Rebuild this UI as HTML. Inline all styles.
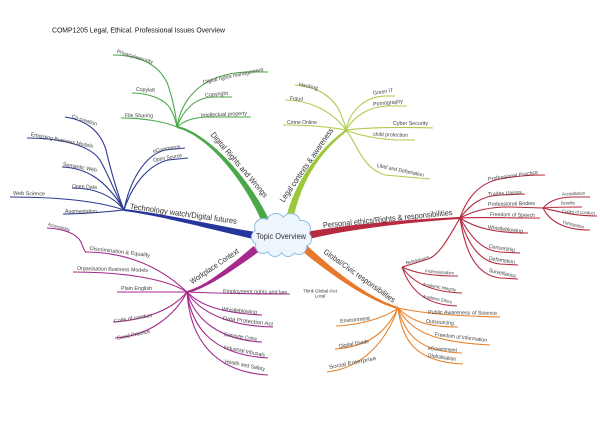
<!DOCTYPE html>
<html>
<head>
<meta charset="utf-8">
<style>
html,body{margin:0;padding:0;background:#fff;}
svg{display:block;}
text{font-family:"Liberation Sans",sans-serif;}
.s{font-size:5.5px;fill:#444;}
.xs{font-size:4.6px;fill:#444;}
.m{font-size:8px;fill:#333;}
</style>
</head>
<body>
<svg width="600" height="424" viewBox="0 0 600 424" xmlns="http://www.w3.org/2000/svg">
<rect width="600" height="424" fill="#fff"/>

<text x="52" y="32.5" font-size="7.5" fill="#111" textLength="173" lengthAdjust="spacingAndGlyphs">COMP1205 Legal, Ethical. Professional Issues Overview</text>

<!-- GREEN sub-branches -->
<g fill="none" stroke="#4aa84a" stroke-width="1.1">
<path d="M113,55 C140,55 160,65 168,85 C173,100 176,115 177,127"/>
<path d="M132,93 C150,93 165,100 170,108 C174,115 176,122 177,127"/>
<path d="M121,118 C145,118 165,122 177,127"/>
<path d="M177,127 C181,100 200,78 235,73 C250,71 260,72 268,72"/>
<path d="M177,127 C183,110 195,98 212,97 L232,97"/>
<path d="M177,127 C185,120 195,117 210,117 L251,117"/>
</g>
<path d="M176.8,128 C204.7,134.3 242.7,176 262.5,223.6 L269.5,220.4 C247.3,174 205.3,131.7 177.2,126 Z" fill="#4aa84a"/>

<!-- YELLOW-GREEN sub-branches -->
<g fill="none" stroke="#aecb4c" stroke-width="1.1">
<path d="M295,85 C315,86 330,95 338,108 C342,116 345,124 346,130"/>
<path d="M285,100 C305,100 330,108 346,130"/>
<path d="M283,125 C310,125 330,127 346,130"/>
<path d="M346,130 C350,110 365,97 385,96 L395,96"/>
<path d="M346,130 C355,115 370,106 390,106 L407,106"/>
<path d="M346,130 C370,127 400,127 433,128"/>
<path d="M346,130 C360,136 380,139 395,140 L415,140"/>
<path d="M346,130 C358,145 362,168 385,175 L430,179"/>
</g>
<path d="M346.4,129.2 C325.2,143.9 295.5,175.5 285.3,221.3 L292.7,222.7 C300.5,176.5 326.8,146.1 347.6,130.8 Z" fill="#9cc83a"/>

<!-- BLUE sub-branches -->
<g fill="none" stroke="#2b3990" stroke-width="1.1">
<path d="M65,117 C85,120 100,130 106,150 C112,175 118,195 124,210"/>
<path d="M27,138 C60,138 90,145 100,160 C110,178 116,195 124,210"/>
<path d="M62,167 C85,168 105,178 124,210"/>
<path d="M72,188 C95,188 112,195 124,210"/>
<path d="M10,197 C50,197 95,200 124,210"/>
<path d="M63,214 C85,214 105,212 124,210"/>
<path d="M124,210 C130,180 145,155 165,150 L185,148"/>
<path d="M124,210 C132,185 148,165 168,160 L188,158"/>
</g>
<path d="M123.9,211 C159.9,215.3 214.5,230.5 256.3,239.7 L257.7,232.3 C215.5,225.5 160.1,212.7 124.1,209 Z" fill="#26369a"/>

<!-- RED sub-branches -->
<g fill="none" stroke="#b5283c" stroke-width="1.1">
<path d="M460,218 C466,200 478,183 500,179 C515,176 530,175 545,175"/>
<path d="M460,218 C470,205 480,196 500,195 L525,194"/>
<path d="M460,218 C475,210 490,207 510,207 L543,208"/>
<path d="M460,218 C480,217 510,218 540,218"/>
<path d="M460,218 C475,228 495,233 528,233"/>
<path d="M460,218 C470,235 480,250 500,252 L520,253"/>
<path d="M460,218 C468,245 480,262 500,264 L518,265"/>
<path d="M460,218 C465,250 475,275 500,278 L518,279"/>
<path d="M460,218 C450,235 440,255 428,259 C418,262 410,265 402,267"/>
<path d="M543,208 C550,200 560,197 575,197 L590,197"/>
<path d="M543,208 C555,207 565,207 582,207"/>
<path d="M543,208 C560,212 575,216 597,216"/>
<path d="M543,208 C550,222 565,230 590,230"/>
<path d="M402,267 C415,273 430,276 458,276"/>
<path d="M402,267 C412,282 430,292 462,293"/>
<path d="M402,267 C410,290 425,305 457,306"/>
</g>
<path d="M460,217 C419.9,218.7 349.5,223.6 304.2,232.3 L305.8,239.7 C350.5,228.4 420.1,221.3 460,219 Z" fill="#b82a40"/>

<!-- ORANGE sub-branches -->
<g fill="none" stroke="#e8822a" stroke-width="1.1">
<path d="M398,308 C420,313 450,316 500,317"/>
<path d="M398,308 C410,320 425,327 458,327"/>
<path d="M398,308 C410,330 430,342 490,345"/>
<path d="M398,308 C405,335 420,352 462,353"/>
<path d="M398,308 C402,340 415,362 463,364"/>
<path d="M336,326 C360,325 385,318 398,308"/>
<path d="M335,349 C365,347 385,335 398,308"/>
<path d="M327,372 C360,368 385,345 398,308"/>
</g>
<path d="M398.3,307 C370.4,298.7 336.6,273.1 305.5,244.1 L300.5,249.9 C333.4,276.9 369.6,301.3 397.7,309 Z" fill="#e8782a"/>

<!-- PURPLE sub-branches -->
<g fill="none" stroke="#a32a8c" stroke-width="1.1">
<path d="M85,252 C120,252 155,262 187,292"/>
<path d="M47,228 C65,229 77,234 81,242 C83,247 84,251 86,252"/>
<path d="M73,272 C120,272 165,278 187,292"/>
<path d="M117,292 L187,292"/>
<path d="M113,322 C145,320 172,310 187,292"/>
<path d="M115,338 C150,336 175,315 187,292"/>
<path d="M187,292 C210,293 250,294 290,294"/>
<path d="M187,292 C200,305 220,313 262,315"/>
<path d="M187,292 C198,310 225,326 273,327"/>
<path d="M187,292 C195,320 220,340 262,342"/>
<path d="M187,292 C192,330 215,355 268,358"/>
<path d="M187,292 C190,340 215,372 268,375"/>
</g>
<path d="M187.2,293 C205.3,289.3 233.6,270 258.4,252 L253.6,246 C230.4,266 204.7,286.7 186.8,291 Z" fill="#a8288c"/>

<!-- CLOUD -->
<g fill="#e6f1fb" stroke="#8fbde0" stroke-width="2">
<circle cx="263" cy="227" r="8"/>
<circle cx="276" cy="223" r="9"/>
<circle cx="291" cy="223" r="9"/>
<circle cx="302" cy="229" r="8"/>
<circle cx="304" cy="239" r="7"/>
<circle cx="299" cy="247" r="7"/>
<circle cx="288" cy="249" r="7"/>
<circle cx="275" cy="249" r="7"/>
<circle cx="263" cy="246" r="7"/>
<circle cx="259" cy="237" r="7"/>
</g>
<g fill="#eef6fd">
<circle cx="263" cy="227" r="8"/>
<circle cx="276" cy="223" r="9"/>
<circle cx="291" cy="223" r="9"/>
<circle cx="302" cy="229" r="8"/>
<circle cx="304" cy="239" r="7"/>
<circle cx="299" cy="247" r="7"/>
<circle cx="288" cy="249" r="7"/>
<circle cx="275" cy="249" r="7"/>
<circle cx="263" cy="246" r="7"/>
<circle cx="259" cy="237" r="7"/>
<ellipse cx="281" cy="237" rx="22" ry="12"/>
</g>
<text x="256" y="239" font-size="8.5" fill="#333" textLength="50" lengthAdjust="spacingAndGlyphs">Topic Overview</text>

<!-- MAIN LABELS -->
<text class="m" transform="translate(208,137) rotate(49.4)" dy="-3" textLength="83" lengthAdjust="spacingAndGlyphs">Digital Rights and Wrongs</text>
<text class="m" transform="translate(287,205) rotate(-55.4)" dy="-4" textLength="88" lengthAdjust="spacingAndGlyphs">Legal contexts &amp; awareness</text>
<text class="m" font-size="8.5" transform="translate(130,206) rotate(8)" dy="2.9" textLength="108" lengthAdjust="spacingAndGlyphs">Technology watch/Digital futures</text>
<text class="m" font-size="8.5" transform="translate(323,225) rotate(-5.7)" dy="2.9" textLength="130" lengthAdjust="spacingAndGlyphs">Personal ethics/Rights &amp; responsibilities</text>
<text class="m" transform="translate(323,253) rotate(35.5)" dy="0" textLength="86" lengthAdjust="spacingAndGlyphs">Global/Civic responsibilities</text>
<text class="m" transform="translate(192,284) rotate(-34.2)" dy="0.5" textLength="57" lengthAdjust="spacingAndGlyphs">Workplace Context</text>

<!-- GREEN LABELS -->
<text class="s" transform="translate(117,51) rotate(17)" dy="1.9" textLength="37.6" lengthAdjust="spacingAndGlyphs">Privacy/security</text>
<text class="s" transform="translate(136,89) rotate(3)" dy="1.9" textLength="19" lengthAdjust="spacingAndGlyphs">Copyleft</text>
<text class="s" transform="translate(125,115) rotate(1)" dy="1.9" textLength="28" lengthAdjust="spacingAndGlyphs">File Sharing</text>
<text class="s" transform="translate(203,82) rotate(-12.2)" dy="1.9" textLength="61.4" lengthAdjust="spacingAndGlyphs">Digital rights management</text>
<text class="s" transform="translate(205,95) rotate(-5)" dy="1.9" textLength="23" lengthAdjust="spacingAndGlyphs">Copyright</text>
<text class="s" transform="translate(201,115) rotate(-2.5)" dy="1.9" textLength="46" lengthAdjust="spacingAndGlyphs">Intellectual property</text>

<!-- YELLOW LABELS -->
<text class="s" transform="translate(299,84) rotate(11.9)" dy="1.9" textLength="19.4" lengthAdjust="spacingAndGlyphs">Hacking</text>
<text class="s" transform="translate(290,98) rotate(4)" dy="1.9" textLength="13" lengthAdjust="spacingAndGlyphs">Fraud</text>
<text class="s" transform="translate(287,122)" dy="1.9" textLength="30" lengthAdjust="spacingAndGlyphs">Crime Online</text>
<text class="s" transform="translate(373,93) rotate(-8.5)" dy="1.9" textLength="20.2" lengthAdjust="spacingAndGlyphs">Green IT</text>
<text class="s" transform="translate(373,104) rotate(-5.7)" dy="1.9" textLength="30" lengthAdjust="spacingAndGlyphs">Pornography</text>
<text class="s" transform="translate(393,123)" dy="1.9" textLength="35" lengthAdjust="spacingAndGlyphs">Cyber Security</text>
<text class="s" transform="translate(373,134) rotate(1.6)" dy="1.9" textLength="35" lengthAdjust="spacingAndGlyphs">child protection</text>
<text class="s" transform="translate(377,165) rotate(12)" dy="1.9" textLength="48" lengthAdjust="spacingAndGlyphs">Libel and Defamation</text>

<!-- BLUE LABELS -->
<text class="s" transform="translate(72,116) rotate(17.7)" dy="1.9" textLength="26.2" lengthAdjust="spacingAndGlyphs">Co-creation</text>
<text class="s" transform="translate(31,134) rotate(11)" dy="1.9" textLength="63.2" lengthAdjust="spacingAndGlyphs">Emerging Business Models</text>
<text class="s" transform="translate(63,164) rotate(10)" dy="1.9" textLength="34.5" lengthAdjust="spacingAndGlyphs">Semantic Web</text>
<text class="s" transform="translate(72,186) rotate(2.3)" dy="1.9" textLength="25" lengthAdjust="spacingAndGlyphs">Open Data</text>
<text class="s" transform="translate(13,193) rotate(1)" dy="1.9" textLength="32" lengthAdjust="spacingAndGlyphs">Web Science</text>
<text class="s" transform="translate(65,211)" dy="1.9" textLength="32" lengthAdjust="spacingAndGlyphs">Augmentation</text>
<text class="s" transform="translate(153,151) rotate(-10.5)" dy="1.9" textLength="27.5" lengthAdjust="spacingAndGlyphs">eCommerce</text>
<text class="s" transform="translate(153,160) rotate(-9.8)" dy="1.9" textLength="29.4" lengthAdjust="spacingAndGlyphs">Open Source</text>

<!-- RED LABELS -->
<text class="s" transform="translate(488,179) rotate(-8)" dy="1.9" textLength="50.5" lengthAdjust="spacingAndGlyphs">Professional Practice</text>
<text class="s" transform="translate(488,194) rotate(-3.4)" dy="1.9" textLength="34" lengthAdjust="spacingAndGlyphs">Trades Unions</text>
<text class="s" transform="translate(488,204) rotate(-1.2)" dy="1.9" textLength="47" lengthAdjust="spacingAndGlyphs">Professional Bodies</text>
<text class="s" transform="translate(490,214) rotate(1.3)" dy="1.9" textLength="45" lengthAdjust="spacingAndGlyphs">Freedom of Speech</text>
<text class="s" transform="translate(488,227) rotate(6.5)" dy="1.9" textLength="35.2" lengthAdjust="spacingAndGlyphs">Whistleblowing</text>
<text class="s" transform="translate(489,246) rotate(8.7)" dy="1.9" textLength="26.3" lengthAdjust="spacingAndGlyphs">Censorship</text>
<text class="s" transform="translate(489,258) rotate(8.7)" dy="1.9" textLength="26.3" lengthAdjust="spacingAndGlyphs">Defamation</text>
<text class="s" transform="translate(489,270) rotate(12.5)" dy="1.9" textLength="27.7" lengthAdjust="spacingAndGlyphs">Surveillance</text>
<text class="xs" transform="translate(562,194) rotate(-2.5)" dy="1.6" textLength="23" lengthAdjust="spacingAndGlyphs">Accreditation</text>
<text class="xs" transform="translate(561,203)" dy="1.6" textLength="14" lengthAdjust="spacingAndGlyphs">Benefits</text>
<text class="xs" transform="translate(562,211) rotate(3.5)" dy="1.6" textLength="33" lengthAdjust="spacingAndGlyphs">Codes of conduct</text>
<text class="xs" transform="translate(563,222) rotate(13.4)" dy="1.6" textLength="21.6" lengthAdjust="spacingAndGlyphs">Participation</text>
<text class="xs" transform="translate(406,263) rotate(-14.6)" dy="1.6" textLength="23.8" lengthAdjust="spacingAndGlyphs">Behaviours</text>
<text class="xs" transform="translate(425,271) rotate(4)" dy="1.6" textLength="29" lengthAdjust="spacingAndGlyphs">Professionalism</text>
<text class="xs" transform="translate(423,284) rotate(10.3)" dy="1.6" textLength="33.5" lengthAdjust="spacingAndGlyphs">Academic Integrity</text>
<text class="xs" transform="translate(423,296) rotate(11.7)" dy="1.6" textLength="29.6" lengthAdjust="spacingAndGlyphs">Academic Ethics</text>

<!-- ORANGE LABELS -->
<text class="s" transform="translate(428,312) rotate(0.8)" dy="1.9" textLength="69" lengthAdjust="spacingAndGlyphs">Public Awareness of Science</text>
<text class="s" transform="translate(426,321) rotate(4)" dy="1.9" textLength="28" lengthAdjust="spacingAndGlyphs">Outsourcing</text>
<text class="s" transform="translate(435,334) rotate(6.6)" dy="1.9" textLength="52.3" lengthAdjust="spacingAndGlyphs">Freedom of Information</text>
<text class="s" transform="translate(428,348) rotate(4)" dy="1.9" textLength="29" lengthAdjust="spacingAndGlyphs">eGovernment</text>
<text class="s" transform="translate(428,355) rotate(8.1)" dy="1.9" textLength="28.3" lengthAdjust="spacingAndGlyphs">Globalisation</text>
<text class="s" transform="translate(340,321) rotate(-5.7)" dy="1.9" textLength="30" lengthAdjust="spacingAndGlyphs">Environment</text>
<text class="s" transform="translate(339,346) rotate(-9.5)" dy="1.9" textLength="30.4" lengthAdjust="spacingAndGlyphs">Digital Divide</text>
<text class="s" transform="translate(329,367) rotate(-10.8)" dy="1.9" textLength="47.9" lengthAdjust="spacingAndGlyphs">Social Enterprise</text>
<text x="320" y="292.5" font-size="4.5" fill="#333" text-anchor="middle" textLength="34" lengthAdjust="spacingAndGlyphs">Think Global /Act</text>
<text x="320" y="297.5" font-size="4.5" fill="#333" text-anchor="middle">Local</text>

<!-- PURPLE LABELS -->
<text class="xs" transform="translate(48,224) rotate(15.3)" dy="1.6" textLength="22.8" lengthAdjust="spacingAndGlyphs">Accessibility</text>
<text class="s" transform="translate(90,248) rotate(6.7)" dy="1.9" textLength="60.4" lengthAdjust="spacingAndGlyphs">Discrimination &amp; Equality</text>
<text class="s" transform="translate(77,268) rotate(1.6)" dy="1.9" textLength="71" lengthAdjust="spacingAndGlyphs">Organisation Business Models</text>
<text class="s" transform="translate(121,288)" dy="1.9" textLength="31" lengthAdjust="spacingAndGlyphs">Plain English</text>
<text class="s" transform="translate(114,321) rotate(-9)" dy="1.9" textLength="38.5" lengthAdjust="spacingAndGlyphs">Code of conduct</text>
<text class="s" transform="translate(117,338) rotate(-12)" dy="1.9" textLength="33.7" lengthAdjust="spacingAndGlyphs">Good Practice</text>
<text class="s" transform="translate(223,291) rotate(0.9)" dy="1.9" textLength="64" lengthAdjust="spacingAndGlyphs">Employment rights and law</text>
<text class="s" transform="translate(222,309) rotate(4.9)" dy="1.9" textLength="35.1" lengthAdjust="spacingAndGlyphs">Whistleblowing</text>
<text class="s" transform="translate(223,318) rotate(6.8)" dy="1.9" textLength="50.4" lengthAdjust="spacingAndGlyphs">Data Protection Act</text>
<text class="s" transform="translate(224,334) rotate(8.6)" dy="1.9" textLength="33.4" lengthAdjust="spacingAndGlyphs">Computer Crime</text>
<text class="s" transform="translate(224,347) rotate(11)" dy="1.9" textLength="41.8" lengthAdjust="spacingAndGlyphs">Industrial tribunals</text>
<text class="s" transform="translate(225,361) rotate(11.3)" dy="1.9" textLength="40.8" lengthAdjust="spacingAndGlyphs">Health and Safety</text>
</svg>
</body>
</html>
